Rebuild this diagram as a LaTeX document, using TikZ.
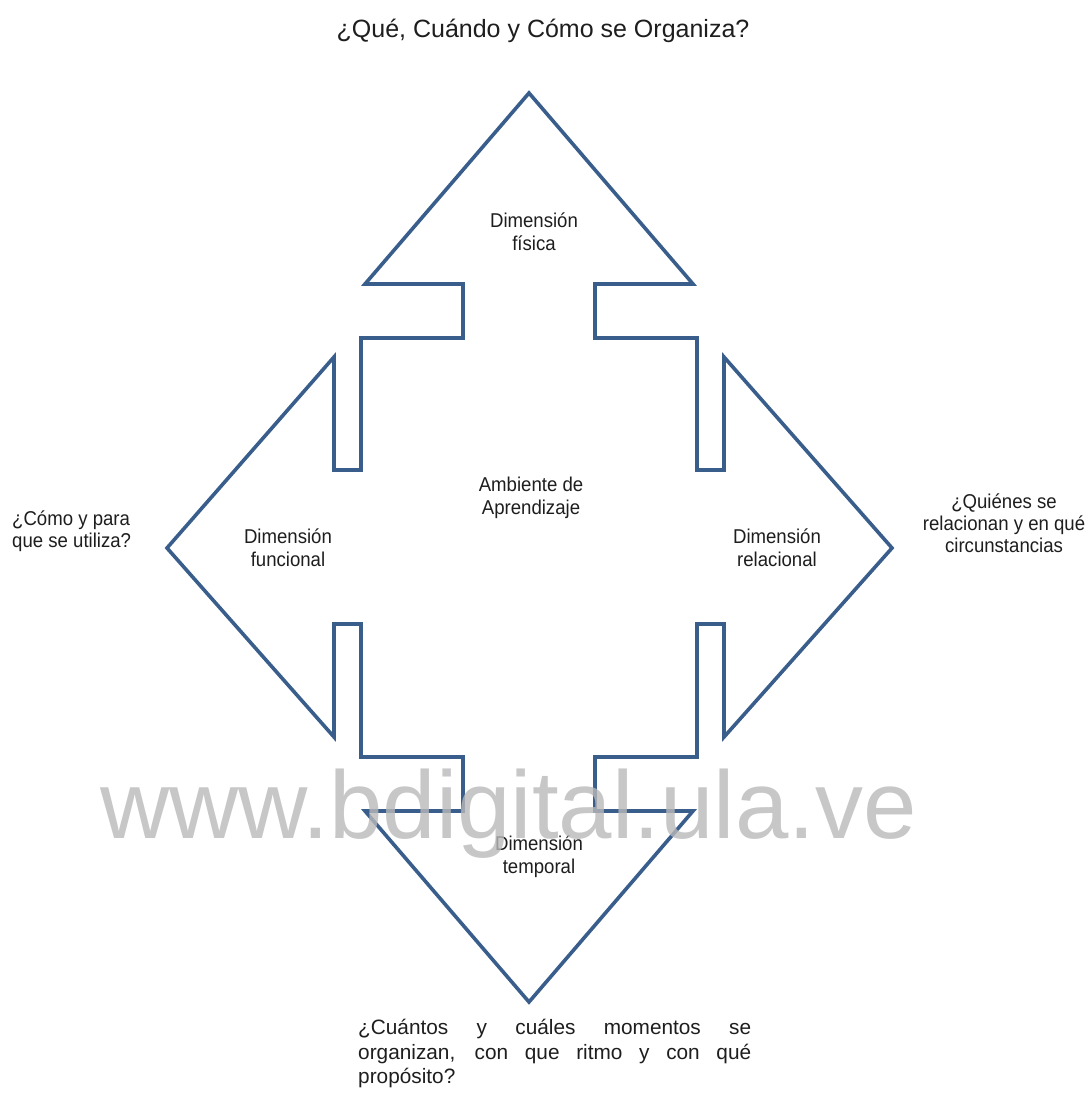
\documentclass[tikz,border=0pt]{standalone}
\usepackage{fontspec}
\setmainfont{Liberation Sans}
\newfontfamily\narrowfont[FakeStretch=0.93]{Liberation Sans}
\definecolor{outline}{RGB}{58,94,140}
\definecolor{ink}{RGB}{30,30,30}
\definecolor{mark}{RGB}{185,185,185}
\begin{document}
\begin{tikzpicture}[x=1pt,y=-1pt,
  label/.style={inner sep=0pt, align=center, text=ink,
    font=\narrowfont\fontsize{20}{23}\selectfont},
  note/.style={inner sep=0pt, text=ink,
    font=\narrowfont\fontsize{20}{22}\selectfont},
  heading/.style={inner sep=0pt, text=ink,
    font=\fontsize{25}{28}\selectfont},
  shapeline/.style={draw=outline, line width=3.6pt, line join=miter}]
\useasboundingbox (0,0) rectangle (1090,1107);
\fill[white] (0,0) rectangle (1090,1107);

% four-way arrow outline, clockwise from the top tip
\draw[shapeline]
  (529,93) -- (693,284) -- (595,284) -- (595,338) -- (697,338) -- (697,470)
  -- (724,470) -- (724,357) -- (892,548) -- (724,737) -- (724,624)
  -- (697,624) -- (697,757) -- (595,757) -- (595,811) -- (693,811)
  -- (529,1002) -- (365,811) -- (463,811) -- (463,757) -- (361,757)
  -- (361,624) -- (334,624) -- (334,737) -- (167,548) -- (334,357)
  -- (334,470) -- (361,470) -- (361,338) -- (463,338) -- (463,284)
  -- (365,284) -- cycle;

% title
\node[heading, anchor=base] (title) at (543,38) {¿Qué, Cuándo y Cómo se Organiza?};

% labels inside the arrows
\node[label] (fisica) at (534,232) {Dimensión\\física};
\node[label] (ambiente) at (531,498) {Ambiente de\\Aprendizaje};
\node[label] (funcional) at (288,548) {Dimensión\\funcional};
\node[label] (relacional) at (777,548) {Dimensión\\relacional};
\node[label] (temporal) at (539,857) {Dimensión\\temporal};

% questions around the figure
\node[note, anchor=west, align=left] (como) at (12,531) {¿Cómo y para\\que se utiliza?};
\node[note, align=center] (quienes) at (1004,523) {¿Quiénes se\\relacionan y en qué\\circunstancias};
\node[note, anchor=north west, align=left,
  font=\fontsize{20.8}{24.5}\selectfont] (cuantos) at (358,1019)
  {\makebox[393pt][s]{¿Cuántos y cuáles momentos se}\\
   \makebox[393pt][s]{organizan, con que ritmo y con qué}\\
   propósito?};

% watermark
\node[inner sep=0pt, anchor=base west, text=mark, text opacity=0.8,
  font=\fontsize{96}{100}\selectfont] (wm) at (100,838) {www.bdigital.ula.ve};
\end{tikzpicture}
\end{document}
